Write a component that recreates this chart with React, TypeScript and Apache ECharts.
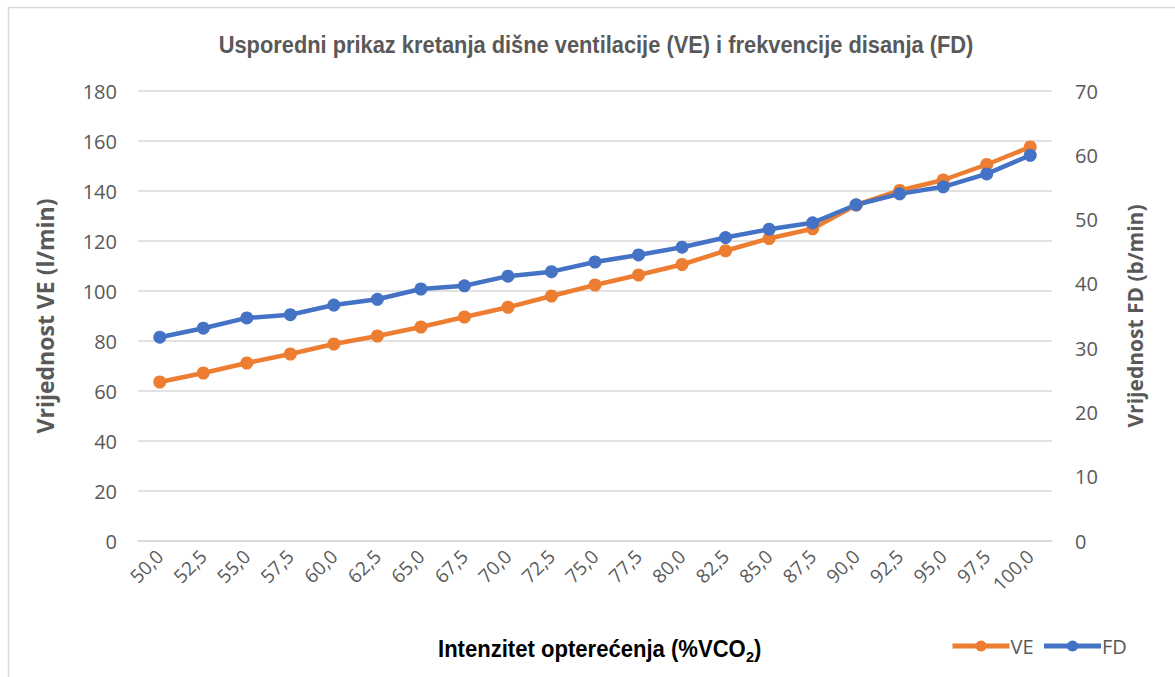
import React, { useEffect, useRef } from "react";
import * as echarts from "echarts";

const categories = ["50,0","52,5","55,0","57,5","60,0","62,5","65,0","67,5","70,0","72,5","75,0","77,5","80,0","82,5","85,0","87,5","90,0","92,5","95,0","97,5","100,0"];
const veValues = [63.6, 67.2, 71.2, 74.8, 78.8, 82.0, 85.6, 89.6, 93.5, 98.0, 102.4, 106.4, 110.6, 116.1, 121.0, 124.9, 134.4, 140.2, 144.4, 150.6, 157.6];
const fdValues = [31.7, 33.1, 34.7, 35.2, 36.7, 37.6, 39.2, 39.7, 41.2, 41.9, 43.4, 44.5, 45.7, 47.2, 48.5, 49.5, 52.3, 54.0, 55.1, 57.1, 60.0];

const titleText = "Usporedni prikaz kretanja dišne ventilacije (VE) i frekvencije disanja (FD)";
const leftAxisName = "Vrijednost VE (l/min)";
const rightAxisName = "Vrijednost FD (b/min)";

const GREY = "#595959";
const ORANGE = "#ED7D31";
const BLUE = "#4472C4";
const SANS = "'Open Sans', 'Noto Sans', sans-serif";
const BOLD = "'Liberation Sans', Arial, sans-serif";

export default function App() {
  const ref = useRef<HTMLDivElement>(null);
  useEffect(() => {
    if (!ref.current) return;
    const chart = echarts.init(ref.current, null, { renderer: "svg" });
    chart.setOption({
      animation: false,
      backgroundColor: "#ffffff",
      graphic: [
        { type: "line", shape: { x1: 8.5, y1: 7.5, x2: 1175, y2: 7.5 }, style: { stroke: "#d9d9d9", lineWidth: 1.5 } },
        { type: "line", shape: { x1: 8.5, y1: 7.5, x2: 8.5, y2: 677 }, style: { stroke: "#d9d9d9", lineWidth: 1.5 } },
        {
          type: "text",
          x: 596,
          y: 45,
          scaleX: 0.91,
          style: {
            text: titleText,
            align: "center",
            verticalAlign: "middle",
            fontFamily: BOLD,
            fontWeight: "bold",
            fontSize: 24,
            fill: GREY,
          },
        },
        {
          type: "text",
          x: 438,
          y: 634,
          scaleX: 0.96,
          style: {
            text: "{a|Intenzitet opterećenja (%VCO}{s|2}{a|)}",
            rich: {
              a: { fontFamily: BOLD, fontWeight: "bold", fontSize: 23, color: GREY, lineHeight: 30, verticalAlign: "middle" },
              s: { fontFamily: BOLD, fontWeight: "bold", fontSize: 15, color: GREY, lineHeight: 30, verticalAlign: "bottom", padding: [12, 0, 0, 0] },
            },
          },
        },
      ],
      legend: {
        left: 945,
        top: 631,
        itemWidth: 57,
        itemHeight: 14,
        itemGap: 8,
        textStyle: { fontFamily: SANS, fontSize: 20, color: GREY, padding: [0, 0, 0, -4] },
        data: [
          { name: "VE", lineStyle: { width: 5, color: ORANGE } },
          { name: "FD", lineStyle: { width: 5, color: BLUE } },
        ],
      },
      grid: { left: 138, right: 123, top: 91, bottom: 136, containLabel: false },
      xAxis: {
        type: "category",
        data: categories,
        boundaryGap: true,
        axisLine: { show: true, lineStyle: { color: "#d9d9d9", width: 1.5 } },
        axisTick: { show: false },
        axisLabel: { rotate: 45, fontFamily: SANS, fontSize: 19, color: GREY, margin: 12, interval: 0 },
      },
      yAxis: [
        {
          type: "value",
          min: 0,
          max: 180,
          interval: 20,
          name: leftAxisName,
          nameLocation: "middle",
          nameGap: 82,
          nameTextStyle: { fontFamily: SANS, fontWeight: "bold", fontSize: 23, color: GREY },
          axisLine: { show: false },
          axisTick: { show: false },
          axisLabel: { fontFamily: SANS, fontSize: 20, color: GREY, margin: 21 },
          splitLine: { lineStyle: { color: "#d9d9d9", width: 1.5 } },
        },
        {
          type: "value",
          min: 0,
          max: 70,
          interval: 10,
          name: rightAxisName,
          nameLocation: "middle",
          nameGap: 72,
          nameRotate: 90,
          nameTextStyle: { fontFamily: SANS, fontWeight: "bold", fontSize: 21, color: GREY },
          axisLine: { show: false },
          axisTick: { show: false },
          axisLabel: { fontFamily: SANS, fontSize: 20, color: GREY, margin: 23 },
          splitLine: { show: false },
        },
      ],
      series: [
        {
          name: "VE",
          type: "line",
          yAxisIndex: 0,
          data: veValues,
          symbol: "circle",
          symbolSize: 13,
          lineStyle: { color: ORANGE, width: 4.5 },
          itemStyle: { color: ORANGE },
        },
        {
          name: "FD",
          type: "line",
          yAxisIndex: 1,
          data: fdValues,
          symbol: "circle",
          symbolSize: 13,
          lineStyle: { color: BLUE, width: 4.5 },
          itemStyle: { color: BLUE },
        },
      ],
    });
    return () => chart.dispose();
  }, []);
  return <div ref={ref} style={{ width: 1175, height: 677, position: "absolute", left: 0, top: 0 }} />;
}
